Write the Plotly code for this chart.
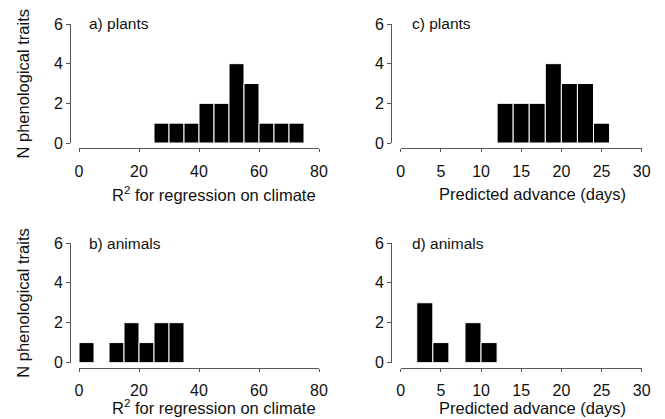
import plotly.graph_objects as go

# Data: histogram bins (left edges) and counts
a_left = [25, 30, 35, 40, 45, 50, 55, 60, 65, 70]
a_counts = [1, 1, 1, 2, 2, 4, 3, 1, 1, 1]
b_left = [0, 10, 15, 20, 25, 30]
b_counts = [1, 1, 2, 1, 2, 2]
c_left = [12, 14, 16, 18, 20, 22, 24]
c_counts = [2, 2, 2, 4, 3, 3, 1]
d_left = [2, 4, 8, 10]
d_counts = [3, 1, 2, 1]

W, H = 665, 419
FONT = "Liberation Sans, Arial, sans-serif"
TXT = "#111111"

fig = go.Figure()

panels = [
    (a_left, a_counts, 5, "x", "y", "a) plants", "R<sup>2</sup> for regression on climate", [0, 80], 20),
    (c_left, c_counts, 2, "x2", "y2", "c) plants", "Predicted advance (days)", [0, 30], 5),
    (b_left, b_counts, 5, "x3", "y3", "b) animals", "R<sup>2</sup> for regression on climate", [0, 80], 20),
    (d_left, d_counts, 2, "x4", "y4", "d) animals", "Predicted advance (days)", [0, 30], 5),
]

xdom_left = [79 / W, 319 / W]
xdom_right = [400.7 / W, 641.7 / W]
ydom_top = [1 - 143 / H, 1 - 24 / H]
ydom_bot = [1 - 362.5 / H, 1 - 243 / H]
xline_top = 1 - 148.3 / H
xline_bot = 1 - 368 / H
yline_left = 70 / W
yline_right = 391 / W

geo = {
    "x": (xdom_left, ydom_top, xline_top, yline_left),
    "x2": (xdom_right, ydom_top, xline_top, yline_right),
    "x3": (xdom_left, ydom_bot, xline_bot, yline_left),
    "x4": (xdom_right, ydom_bot, xline_bot, yline_right),
}

axis_color = "#555555"
tickfont = dict(family=FONT, size=16, color=TXT)

annotations = []
for left, counts, bw, xa, ya, label, xtitle, xr, dt in panels:
    fig.add_trace(go.Bar(
        x=left, y=counts, width=bw, offset=0,
        xaxis=xa, yaxis=ya,
        marker=dict(color="black", line=dict(color="white", width=1)),
        showlegend=False, hoverinfo="skip",
    ))
    xdom, ydom, xpos, ypos = geo[xa]
    xkey = "xaxis" if xa == "x" else "xaxis" + xa[1:]
    ykey = "yaxis" if ya == "y" else "yaxis" + ya[1:]
    fig.update_layout(**{
        xkey: dict(domain=xdom, range=xr, anchor="free", position=xpos,
                   showline=True, linecolor=axis_color, linewidth=1,
                   ticks="outside", ticklen=3, tickcolor=axis_color,
                   tickmode="linear", tick0=0, dtick=dt,
                   tickfont=tickfont, ticklabelstandoff=5,
                   showgrid=False, zeroline=False, fixedrange=True),
        ykey: dict(domain=ydom, range=[0, 6], anchor="free", position=ypos,
                   showline=True, linecolor=axis_color, linewidth=1,
                   ticks="outside", ticklen=4, tickcolor=axis_color,
                   tickmode="linear", tick0=0, dtick=2,
                   tickfont=tickfont,
                   showgrid=False, zeroline=False, fixedrange=True),
    })
    annotations.append(dict(
        text=label, xref=xa + " domain", yref=ya + " domain",
        x=0.032 if xa in ("x", "x3") else 0.04, y=1.0,
        xanchor="left", yanchor="middle", showarrow=False,
        font=dict(family=FONT, size=15.5, color=TXT),
    ))
    xcen = 0.5625 if xa in ("x", "x3") else 0.545
    if xa in ("x", "x2"):
        title_pos = dict(y=1 - 193.5 / H, yanchor="middle")
    else:
        title_pos = dict(y=0, yanchor="bottom")
    annotations.append(dict(
        text=xtitle, xref=xa + " domain", yref="paper",
        x=xcen, xanchor="center", showarrow=False,
        font=dict(family=FONT, size=16.5, color=TXT), **title_pos,
    ))

for ydom in (ydom_top, ydom_bot):
    annotations.append(dict(
        text="N phenological traits", xref="paper", yref="paper",
        x=23 / W, y=(ydom[0] + ydom[1]) / 2, textangle=-90,
        xanchor="center", yanchor="middle", showarrow=False,
        font=dict(family=FONT, size=16.5, color=TXT),
    ))

fig.update_layout(
    width=W, height=H,
    margin=dict(l=0, r=0, t=0, b=0, pad=0, autoexpand=False),
    paper_bgcolor="white", plot_bgcolor="white",
    bargap=0, annotations=annotations,
)

fig.write_html(
    "out.html",
    config={"displayModeBar": False, "staticPlot": True},
    post_script="document.body.style.margin='0';document.body.style.overflow='hidden';",
)
